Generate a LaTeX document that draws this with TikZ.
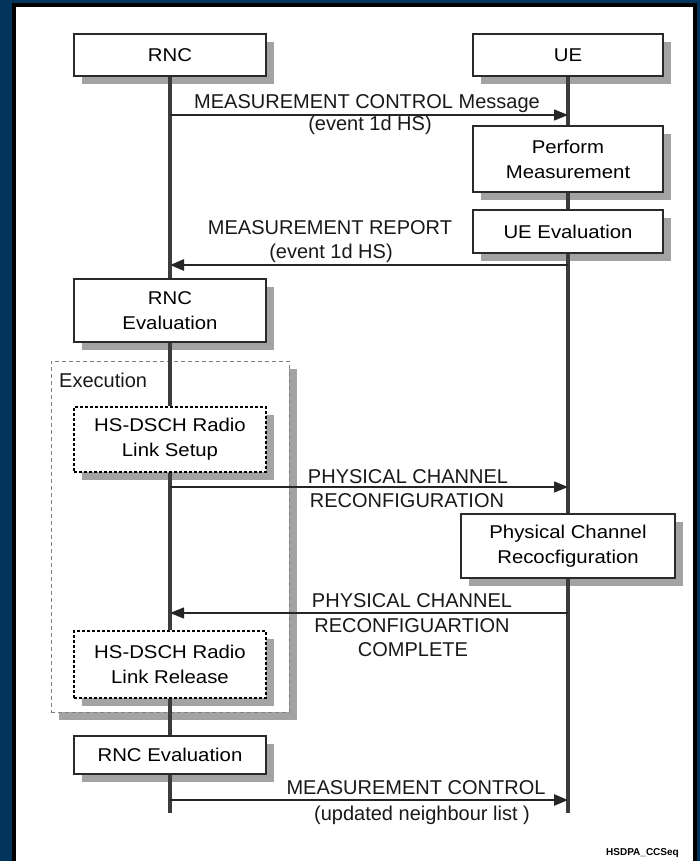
\documentclass[tikz,border=0pt]{standalone}
\usepackage{fontspec}
\setmainfont{Liberation Sans}
\newfontfamily\boxfont{Liberation Sans}[FakeStretch=1.1]
\usetikzlibrary{arrows.meta,shadows}
\definecolor{navy}{HTML}{03345C}
\definecolor{shade}{HTML}{A3A3A3}
\definecolor{lifec}{HTML}{3C3C3C}
\definecolor{edgec}{HTML}{2A2A2A}
\tikzset{
  box/.style={draw=edgec, line width=1.4pt, fill=white, inner sep=0pt, align=center,
    font=\boxfont\fontsize{18.5}{25}\selectfont,
    drop shadow={shadow xshift=8pt, shadow yshift=-8pt, fill=shade, opacity=1}},
  dbox/.style={box, draw=black, dash pattern=on 3pt off 2pt},
  exbox/.style={draw=black!50, line width=1pt, dash pattern=on 4pt off 3pt, fill=white, inner sep=0pt,
    drop shadow={shadow xshift=8pt, shadow yshift=-8pt, fill=shade, opacity=1}},
  life/.style={draw=lifec, line width=3.2pt},
  thinmsg/.style={draw=black!85, line width=1.3pt, -{Triangle[length=14pt,width=11pt]}},
  thickmsg/.style={draw=black!85, line width=2.7pt, -{Triangle[length=14pt,width=11pt]}},
  lbl/.style={font=\fontsize{20}{24}\selectfont, anchor=base, inner sep=0pt, text=black!90},
}
\begin{document}
\begin{tikzpicture}[x=1pt,y=-1pt]
% frame
\fill[navy] (0,0) rectangle (700,861);
\fill[black] (12,3) rectangle (697,861);
\fill[white] (16,7) rectangle (693,861);

% execution group
\node[exbox, minimum width=238pt, minimum height=351pt] (exec) at (170,536.5) {};
\node[lbl, anchor=base west] (execlbl) at (59,387) {Execution};

% participant and activity boxes
\node[box, minimum width=192pt, minimum height=42pt] (rnc) at (170,55) {RNC};
\node[box, minimum width=190pt, minimum height=42pt] (ue) at (568,55) {UE};
\node[box, minimum width=190pt, minimum height=66pt] (perf) at (568,159) {Perform\\Measurement};
\node[box, minimum width=190pt, minimum height=43pt] (ueeval) at (568,231.5) {UE Evaluation};
\node[box, minimum width=192pt, minimum height=63pt] (rnceval) at (170,310.5) {RNC\\Evaluation};
\node[dbox, minimum width=192pt, minimum height=65pt] (setup) at (170,439.5) {HS-DSCH Radio\\Link Setup};
\node[box, minimum width=214pt, minimum height=64pt] (phys) at (568,546) {Physical Channel\\Recocfiguration};
\node[dbox, minimum width=192pt, minimum height=67pt] (release) at (170,664.5) {HS-DSCH Radio\\Link Release};
\node[box, minimum width=192pt, minimum height=38pt] (rnceval2) at (170,755) {RNC Evaluation};

\coordinate (rncend) at (170,813);
\coordinate (ueend) at (568,813);

% lifelines
\draw[life] (rnc.south) -- (rnceval.north);
\draw[life] (rnceval.south) -- (setup.north);
\draw[life] (setup.south) -- (release.north);
\draw[life] (release.south) -- (rnceval2.north);
\draw[life] (rnceval2.south) -- (rncend);
\draw[life] (ue.south) -- (perf.north);
\draw[life] (perf.south) -- (ueeval.north);
\draw[life] (ueeval.south) -- (phys.north);
\draw[life] (phys.south) -- (ueend);

% message levels
\coordinate (y1) at (0,115);
\coordinate (y2) at (0,265);
\coordinate (y3) at (0,487);
\coordinate (y4) at (0,613);
\coordinate (y5) at (0,800);

% messages
\draw[thinmsg] (rnc |- y1) -- (ue |- y1);
\draw[thickmsg] (ue |- y2) -- (rnc |- y2);
\draw[thinmsg] (rnc |- y3) -- (ue |- y3);
\draw[thinmsg] (ue |- y4) -- (rnc |- y4);
\draw[thickmsg] (rnc |- y5) -- (ue |- y5);

% labels
\node[lbl] (m1a) at (367,109) {MEASUREMENT CONTROL Message};
\node[lbl] (m1b) at (370,131) {(event 1d HS)};
\node[lbl] (m2a) at (330,234) {MEASUREMENT REPORT};
\node[lbl] (m2b) at (331,258) {(event 1d HS)};
\node[lbl] (m3a) at (408,483) {PHYSICAL CHANNEL};
\node[lbl] (m3b) at (407,507) {RECONFIGURATION};
\node[lbl] (m4a) at (412,607) {PHYSICAL CHANNEL};
\node[lbl] (m4b) at (412,632) {RECONFIGUARTION};
\node[lbl] (m4c) at (413,656) {COMPLETE};
\node[lbl] (m5a) at (416,794) {MEASUREMENT CONTROL};
\node[lbl] (m5b) at (422,820) {(updated neighbour list )};

\node[font=\bfseries\fontsize{10}{11}\selectfont, anchor=base east, inner sep=0pt] (tag) at (679,855) {HSDPA\_CCSeq};
\end{tikzpicture}
\end{document}
